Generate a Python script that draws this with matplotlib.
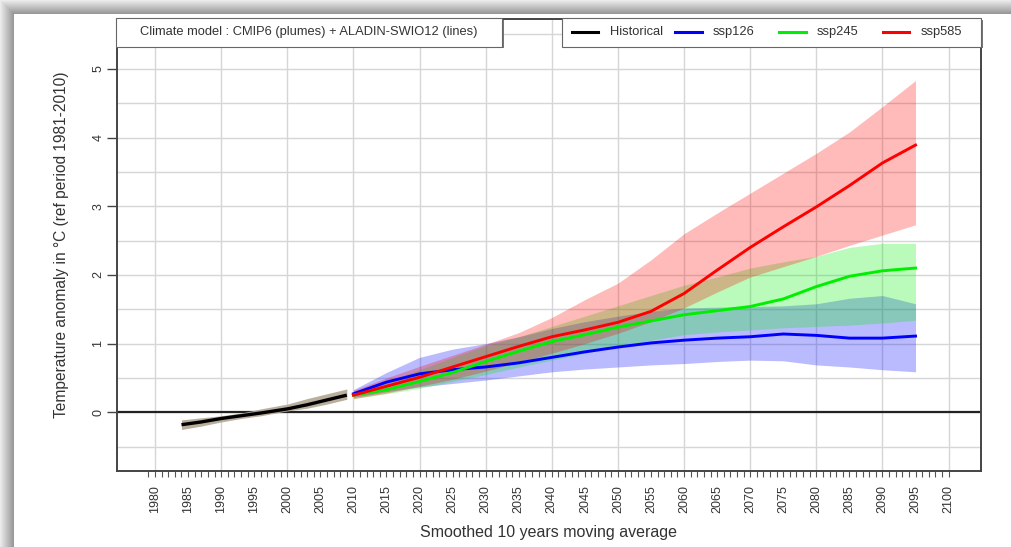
import matplotlib
matplotlib.use("Agg")
import matplotlib.pyplot as plt
from matplotlib.patches import Rectangle
from matplotlib.lines import Line2D
import numpy as np

plt.rcParams['font.family'] = ['Liberation Sans', 'DejaVu Sans']

# ---------------- data ----------------
hist_years = [1984, 1987, 1990, 1993, 1996, 2000, 2003, 2006, 2009]
hist_mean = [-0.18, -0.14, -0.09, -0.05, -0.01, 0.05, 0.11, 0.18, 0.25]
hist_upper = [-0.11, -0.08, -0.05, -0.01, 0.05, 0.12, 0.20, 0.27, 0.34]
hist_lower = [-0.25, -0.20, -0.14, -0.09, -0.05, 0.02, 0.06, 0.12, 0.19]

scen_years = [2010, 2015, 2020, 2025, 2030, 2035, 2040, 2045, 2050,
              2055, 2060, 2065, 2070, 2075, 2080, 2085, 2090, 2095]

ssp126_line = [0.27, 0.44, 0.56, 0.62, 0.66, 0.72, 0.80, 0.88, 0.95,
               1.01, 1.05, 1.08, 1.10, 1.14, 1.12, 1.08, 1.08, 1.11]
ssp245_line = [0.25, 0.33, 0.45, 0.58, 0.74, 0.89, 1.03, 1.13, 1.24,
               1.33, 1.42, 1.48, 1.54, 1.65, 1.83, 1.98, 2.06, 2.10]
ssp585_line = [0.25, 0.38, 0.51, 0.66, 0.81, 0.96, 1.10, 1.20, 1.31,
               1.47, 1.73, 2.07, 2.40, 2.70, 2.99, 3.30, 3.63, 3.89]

ssp126_upper = [0.33, 0.58, 0.80, 0.92, 1.00, 1.10, 1.22, 1.32, 1.40,
                1.47, 1.52, 1.53, 1.54, 1.55, 1.58, 1.66, 1.70, 1.58]
ssp126_lower = [0.22, 0.30, 0.37, 0.42, 0.47, 0.53, 0.59, 0.63, 0.66,
                0.69, 0.71, 0.74, 0.76, 0.75, 0.69, 0.66, 0.62, 0.59]
ssp245_upper = [0.30, 0.45, 0.62, 0.80, 0.97, 1.10, 1.25, 1.40, 1.55,
                1.70, 1.85, 1.97, 2.10, 2.19, 2.27, 2.40, 2.46, 2.46]
ssp245_lower = [0.20, 0.27, 0.35, 0.45, 0.55, 0.66, 0.76, 0.86, 0.95,
                1.05, 1.13, 1.17, 1.20, 1.23, 1.25, 1.27, 1.30, 1.34]
ssp585_upper = [0.32, 0.50, 0.67, 0.83, 0.99, 1.16, 1.38, 1.64, 1.88,
                2.22, 2.60, 2.90, 3.19, 3.48, 3.77, 4.08, 4.45, 4.83]
ssp585_lower = [0.20, 0.28, 0.38, 0.48, 0.60, 0.73, 0.86, 1.00, 1.15,
                1.32, 1.52, 1.75, 1.97, 2.12, 2.27, 2.43, 2.58, 2.73]

legend_labels = ["Historical", "ssp126", "ssp245", "ssp585"]
legend_colors = ["black", "#0000ff", "#00ee00", "#ff0000"]
x_ticks = list(range(1980, 2101, 5))
y_ticks = [0, 1, 2, 3, 4, 5]

# ---------------- figure ----------------
W, H = 1011, 547
fig = plt.figure(figsize=(W / 100, H / 100), dpi=100)
fig.patch.set_facecolor("white")

# screenshot-like shadow frame (top and left)
for i in range(14):
    g = 0.92 - 0.025 * i
    fig.patches.append(Rectangle((i / W, 0), 1 / W, 1 - i / H, transform=fig.transFigure,
                                 facecolor=(g, g, g), edgecolor="none", zorder=0))
    fig.patches.append(Rectangle((i / W, 1 - (i + 1) / H), 1 - i / W, 1 / H, transform=fig.transFigure,
                                 facecolor=(g, g, g), edgecolor="none", zorder=0))

ax_l, ax_r, ax_t, ax_b = 117, 981, 19, 471
ax = fig.add_axes([ax_l / W, 1 - ax_b / H, (ax_r - ax_l) / W, (ax_b - ax_t) / H])
ax.set_xlim(1974.25, 2104.9)
ax.set_ylim(-0.854, 5.725)

# grid
for xv in range(1980, 2101, 10):
    ax.axvline(xv, color="#d6d6d6", lw=1.0, zorder=0)
for yv in np.arange(-0.5, 5.51, 0.5):
    ax.axhline(yv, color="#d6d6d6", lw=1.0, zorder=0)
ax.axhline(0, color="#222222", lw=1.6, zorder=1)

# plumes
ax.fill_between(hist_years, hist_lower, hist_upper, color="#b3a593", alpha=0.9, lw=0, zorder=2)
ax.fill_between(scen_years, ssp126_lower, ssp126_upper, color="#0000ff", alpha=0.27, lw=0, zorder=2)
ax.fill_between(scen_years, ssp245_lower, ssp245_upper, color="#00ee00", alpha=0.27, lw=0, zorder=2)
ax.fill_between(scen_years, ssp585_lower, ssp585_upper, color="#ff0000", alpha=0.27, lw=0, zorder=2)

# lines
ax.plot(hist_years, hist_mean, color="black", lw=2.4, zorder=4, solid_capstyle="butt")
ax.plot(scen_years, ssp126_line, color="#0000ff", lw=2.1, zorder=4)
ax.plot(scen_years, ssp245_line, color="#00ee00", lw=2.1, zorder=4)
ax.plot(scen_years, ssp585_line, color="#ff0000", lw=2.1, zorder=4)

# axes styling
for s in ax.spines.values():
    s.set_color("#444444")
    s.set_linewidth(1.4)
ax.set_xticks(x_ticks)
ax.set_xticklabels([str(v) for v in x_ticks], rotation=90, fontsize=9, color="#333333")
ax.set_xticks(list(range(1979, 2101)), minor=True)
ax.tick_params(axis="x", which="both", length=4, width=0.8, color="#555555", pad=6)
ax.set_yticks(y_ticks)
ax.set_yticklabels([str(v) for v in y_ticks], rotation=90, fontsize=9, color="#333333", va="center")
ax.tick_params(axis="y", length=7, width=1.0, color="#444444", pad=2)

ax.set_xlabel("Smoothed 10 years moving average", fontsize=11.5, color="#333333", labelpad=9)
ax.set_ylabel("Temperature anomaly in °C (ref period 1981-2010)", fontsize=11.2, color="#333333", labelpad=17)

# ----- legend boxes (drawn in axes fraction) -----
def fx(px):
    return (px - ax_l) / (ax_r - ax_l)

def fy(py):
    return (ax_b - py) / (ax_b - ax_t)

box_top, box_bot = 18, 46.5
for (x0, x1) in [(116, 502), (562, 981)]:
    ax.add_patch(Rectangle((fx(x0) + 0.002, fy(box_bot) - 0.004), fx(x1) - fx(x0), fy(box_top) - fy(box_bot),
                           transform=ax.transAxes, facecolor="#777777", edgecolor="none",
                           zorder=5, clip_on=False))
    ax.add_patch(Rectangle((fx(x0), fy(box_bot)), fx(x1) - fx(x0), fy(box_top) - fy(box_bot),
                           transform=ax.transAxes, facecolor="white", edgecolor="#666666", lw=0.8,
                           zorder=6, clip_on=False))

ymid = fy((box_top + box_bot) / 2)
ax.text(fx(140), ymid, "Climate model : CMIP6 (plumes) + ALADIN-SWIO12 (lines)", transform=ax.transAxes,
        fontsize=9.3, color="#333333", va="center", ha="left", zorder=7)

handle_x = [(572, 598, 610), (675, 702, 713), (779, 806, 817), (883, 909, 921)]
for (h0, h1, tx), lab, col in zip(handle_x, legend_labels, legend_colors):
    ax.add_line(Line2D([fx(h0), fx(h1)], [ymid, ymid], transform=ax.transAxes, color=col, lw=2.2,
                       zorder=7, clip_on=False))
    ax.text(fx(tx), ymid, lab, transform=ax.transAxes, fontsize=9.3, color="#333333",
            va="center", ha="left", zorder=7)

fig.savefig("out.png", dpi=100, facecolor=fig.get_facecolor())
